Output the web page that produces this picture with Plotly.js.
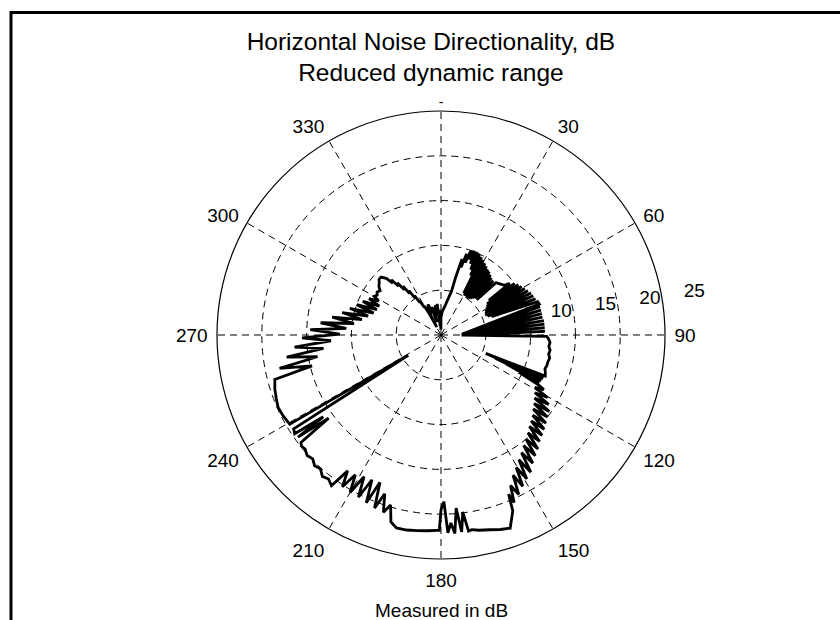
<!DOCTYPE html>
<html>
<head>
<meta charset="utf-8">
<script src="https://cdn.plot.ly/plotly-3.0.1.min.js"></script>
<style>html,body{margin:0;padding:0;background:#fff;}#chart{width:840px;height:620px;}</style>
</head>
<body>
<div id="chart"></div>
<script>
// Bearing (degrees, clockwise from north) and measured level (dB)
const thetaDeg = [
  0,3,6,8,10,12,13.5,14.2,14.8,15.5,16.5,17.5,18.5,19.5,20.5,21.5,22.5,23.5,24.5,25.5,26.5,27.5,28.5,29.5,30.5,31.5,32.5,33.5,34.5,35.5,36.5,37.5,38.5,39.5,40.5,41.5,43,44,45.5,46.5,48,50,52,
  53,54,55,56,57,58,59,60,61,62,63,64,65,66,67,68,69,70,71,
  72.5,86,74,87,76,87.5,78,88,80,88.5,82,89,84,89.5,86,90,88,90.5,90.8,
  92,94,96,98,100,102,104,106,108,110,
  111.5,112.4,113,113.2,114.5,114,116,115.5,117,
  118,119.2,120.4,121.6,122.8,124,125.2,126.4,127.6,128.8,130,131.2,132.4,133.6,134.8,136,137.2,138.4,139.6,140.8,142,143.2,144.4,145.6,146.8,148,149.2,150.4,151.6,152.8,154,155.2,156.4,157,157.8,
  160.3,163,166,169,171,
  172,173,174,175,176,177,178,179,180,180.5,
  181,184,187,190,193,
  195,196.5,198,199.5,201,202.5,204,205.5,207,208.5,210,211.5,213,214.5,216,
  218,220,222,224,226,228,230,231.5,
  232.5,233.5,234.5,235.2,236,237.5,238.2,238.6,239.5,
  243,246,249,252,255,
  256.5,258.3,260,261.8,263.5,265.3,267,268.8,270.5,272.3,274,275.8,277.5,279.3,281,282.8,284.5,286.3,288,289.8,291.5,293.3,295,296.8,298.5,300,
  302,304,306,308,310,312,314,316,
  317,318,319,320,321,322,323,324,325,326,327,328,329,330,331,332,
  333,335,337,339,341,343,345,347,349,351,353,355,357,359,360
];
const levelDb = [
  2.0,2.6,3.0,3.3,3.8,4.4,5.0,6.5,7.5,8.8,7.9,9.5,8.5,10.0,9.0,10.1,8.6,10.1,8.0,10.0,7.4,9.8,5.3,9.6,5.1,9.4,5.2,9.2,5.0,9.0,5.1,8.9,5.2,8.7,5.4,8.5,5.6,8.4,5.6,8.5,8.6,8.8,9.0,
  9.6,6.6,10.0,6.2,10.3,6.0,10.5,5.8,10.7,5.6,10.9,5.5,11.1,5.4,11.2,5.6,11.3,6.0,11.4,
  11.5,2.6,11.5,2.4,11.5,2.5,11.5,2.3,11.5,2.4,11.6,2.3,11.6,2.4,11.6,2.3,11.6,2.5,11.8,
  12.0,12.2,12.1,12.3,12.2,12.4,12.3,12.3,12.2,12.4,
  12.5,5.4,12.4,6.6,12.3,8.0,12.2,9.6,12.1,
  13.0,12.0,13.8,12.3,14.3,12.6,14.8,12.9,15.0,13.2,15.3,13.6,15.6,13.9,15.9,14.2,16.2,14.6,16.7,15.0,17.1,15.4,17.6,15.9,18.3,16.4,18.7,17.0,19.2,17.6,19.8,18.5,20.4,19.3,21.2,
  22.9,22.7,22.4,22.2,22.0,
  22.1,19.9,22.1,19.4,22.2,21.0,22.1,18.6,19.5,21.8,
  21.8,21.9,22.0,22.1,22.1,
  21.6,19.8,20.8,18.8,20.7,17.8,20.5,17.9,20.3,18.0,20.3,18.3,20.2,18.4,20.8,
  20.4,20.6,20.1,20.3,19.9,20.1,19.8,19.9,
  19.7,15.6,19.6,16.0,19.7,19.5,4.3,4.6,19.6,
  19.8,19.9,19.7,19.5,19.2,
  14.8,18.4,14.0,17.4,13.2,16.4,12.3,15.5,11.3,14.6,10.6,13.5,9.8,12.3,9.0,11.3,8.4,10.6,7.9,10.0,7.7,9.5,7.6,9.0,7.9,8.6,
  8.4,8.6,8.4,8.8,9.0,9.3,9.3,8.8,
  7.9,8.3,7.2,7.6,6.5,6.9,5.8,6.1,5.0,5.3,4.3,4.5,3.6,3.7,2.8,1.0,
  2.9,3.4,3.7,2.6,3.3,1.5,3.2,2.3,3.4,2.2,3.5,1.0,2.8,0.6,2.0
];
const angleTicks = [0,30,60,90,120,150,180,210,240,270,300,330];
const angleLabels = ['','30','60','90','120','150','180','210','240','270','300','330'];
const northLabel = '-';            // the 0 label is only a small dash in the reference
const radialTicks = [5,10,15,20,25];
const radialLabels = ['10','15','20','25'];
const radialLabelValues = [10,15,20,25];
const radialMax = 25;
const radialLabelBearing = 81.5;   // ring labels sit on a ray just above 90

const FONT = 'Liberation Sans, Arial, Helvetica, sans-serif';
const GRIDDASH = '7px,5px';

const curve = {
  type: 'scatterpolar',
  mode: 'lines',
  theta: thetaDeg,
  r: levelDb,
  line: {color: '#000', width: 2.8},
  hoverinfo: 'skip',
  showlegend: false
};

const ringLabels = {
  type: 'scatterpolar',
  mode: 'text',
  theta: radialLabelValues.map(() => radialLabelBearing),
  r: radialLabelValues,
  text: radialLabels.map(s => '\u00a0\u00a0\u00a0\u00a0' + s),
  textposition: 'top right',
  textfont: {family: FONT, size: 19, color: '#000'},
  hoverinfo: 'skip',
  showlegend: false,
  cliponaxis: false
};

const northMark = {
  type: 'scatterpolar',
  mode: 'text',
  theta: [angleTicks[0]],
  r: [radialMax],
  text: [northLabel],
  textposition: 'top center',
  textfont: {family: FONT, size: 14, color: '#000'},
  hoverinfo: 'skip',
  showlegend: false,
  cliponaxis: false
};

const layout = {
  width: 840, height: 620,
  margin: {l: 0, r: 0, t: 0, b: 0},
  paper_bgcolor: '#fff',
  showlegend: false,
  title: {
    text: 'Horizontal Noise Directionality, dB<br>Reduced dynamic range',
    font: {family: FONT, size: 24.5, color: '#000'},
    x: 0.513, xanchor: 'center', xref: 'paper',
    y: 0.92, yanchor: 'top', yref: 'container'
  },
  polar: {
    domain: {x: [0.2583, 0.7917], y: [0.0984, 0.8210]},
    bgcolor: '#fff',
    angularaxis: {
      rotation: 90, direction: 'clockwise',
      tickmode: 'array', tickvals: angleTicks, ticktext: angleLabels,
      ticks: 'outside', ticklen: 5, tickcolor: 'rgba(0,0,0,0)',
      showline: true, linecolor: '#000', linewidth: 1.2,
      showgrid: true, gridcolor: '#000', gridwidth: 1, griddash: GRIDDASH,
      tickfont: {family: FONT, size: 19, color: '#000'}
    },
    radialaxis: {
      range: [0, radialMax], angle: 8,
      tickmode: 'array', tickvals: radialTicks,
      showticklabels: false, ticks: '', showline: false,
      showgrid: true, gridcolor: '#000', gridwidth: 1, griddash: GRIDDASH
    }
  },
  annotations: [{
    text: 'Measured in dB', showarrow: false,
    xref: 'paper', yref: 'paper', x: 0.525, y: 0.016,
    xanchor: 'center', yanchor: 'middle',
    font: {family: FONT, size: 19, color: '#000'}
  }],
  shapes: [{
    type: 'rect', xref: 'paper', yref: 'paper',
    x0: 0.0131, x1: 1.05, y0: -0.05, y1: 0.9798,
    line: {color: '#000', width: 3}, fillcolor: 'rgba(0,0,0,0)'
  }]
};

Plotly.newPlot('chart', [curve, ringLabels, northMark], layout, {displayModeBar: false, staticPlot: true});
</script>
</body>
</html>
